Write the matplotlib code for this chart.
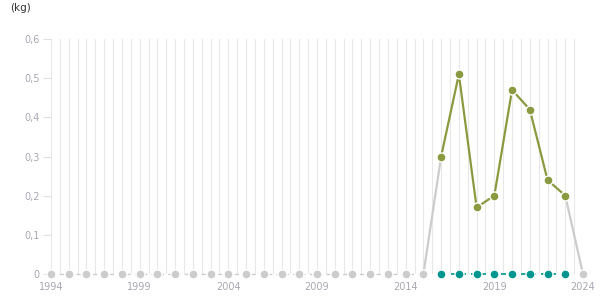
import matplotlib.pyplot as plt
import numpy as np

# data (kg)
years = list(range(1994, 2025))
zero_years = list(range(1994, 2016)) + [2024]
zero_values = [0] * len(zero_years)
active_years = list(range(2016, 2024))
active_values = [0.30, 0.51, 0.17, 0.20, 0.47, 0.42, 0.24, 0.20]
baseline_values = [0] * len(active_years)
tick_years = [1994, 1999, 2004, 2009, 2014, 2019, 2024]
y_ticks = [0, 0.1, 0.2, 0.3, 0.4, 0.5, 0.6]
y_labels = ['0', '0,1', '0,2', '0,3', '0,4', '0,5', '0,6']

olive = '#8a9a40'
teal = '#00968f'
grey = '#cccccc'
label_col = '#a8a8b4'

fig = plt.figure(figsize=(6.15, 3.05), dpi=100)
ax = fig.add_axes([51 / 615, 1 - 274 / 305, 532 / 615, 235 / 305])

# vertical grid every half year
for gx in np.arange(1994, 2024.01, 0.5):
    ax.axvline(gx, color='#e8e8e8', lw=0.8, zorder=0)

# grey zero series (before data) with dashed line
pre = [y for y in zero_years if y <= 2015]
ax.plot(pre, [0] * len(pre), color=grey, lw=1, ls=(0, (3, 3)), zorder=2, clip_on=False)
# grey connectors into and out of the active period
ax.plot([2015, active_years[0]], [0, active_values[0]], color=grey, lw=1.6, zorder=2)
ax.plot([active_years[-1], 2024], [active_values[-1], 0], color=grey, lw=1.6, zorder=2)
ax.plot(zero_years, zero_values, ls='none', marker='o', ms=6.5, mfc=grey,
        mec='white', mew=1, zorder=4, clip_on=False)

# teal baseline
ax.plot(active_years, baseline_values, color=teal, lw=1.2, ls=(0, (3, 3)),
        marker='o', ms=6.5, mfc=teal, mec='white', mew=1, zorder=5, clip_on=False)

# olive series
ax.plot(active_years, active_values, color=olive, lw=1.6, marker='o', ms=6.5,
        mfc=olive, mec='white', mew=1, zorder=6, clip_on=False)

ax.set_xlim(1994, 2024)
ax.set_ylim(0, 0.6)
ax.set_xticks(tick_years)
ax.set_xticklabels([str(t) for t in tick_years])
ax.set_yticks(y_ticks)
ax.set_yticklabels(y_labels)
ax.tick_params(axis='x', length=0, labelsize=7, colors=label_col, pad=6)
ax.tick_params(axis='y', length=6, width=0.8, labelsize=7, colors=label_col, pad=2)
ax.tick_params(axis='y', color='#e0e0e0')
for s in ax.spines.values():
    s.set_visible(False)

fig.text(10 / 615, 1 - 8 / 305, '(kg)', fontsize=7.5, color='#333333', va='center')

fig.savefig('out.png', dpi=100)
